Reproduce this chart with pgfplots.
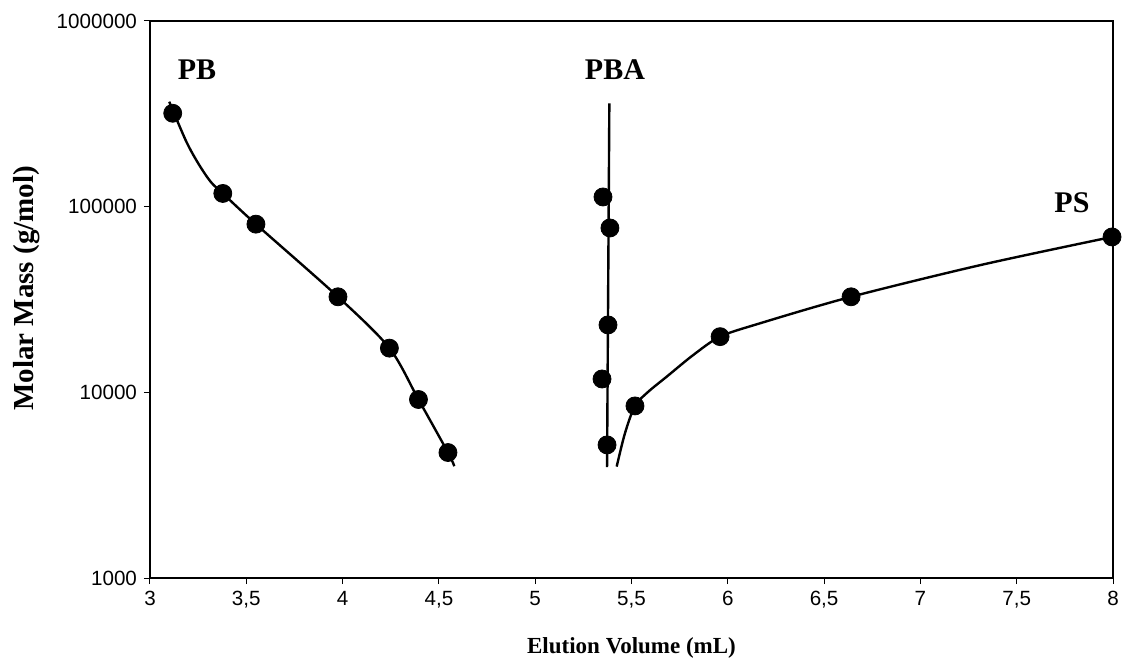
\documentclass[border=0pt]{standalone}
\usepackage{fontspec}
\setmainfont{Liberation Serif}
\newfontfamily\tickfont{Liberation Sans}
\usepackage{pgfplots}
\pgfplotsset{compat=1.18}
\begin{document}
\begin{tikzpicture}
\useasboundingbox (-75pt,-44pt) rectangle (486.5pt,289pt);
\begin{axis}[
  at={(0,0)}, anchor=south west,
  scale only axis, width=481.5pt, height=278.5pt,
  ymode=log, xmin=3, xmax=8, ymin=1000, ymax=1000000,
  xtick={3,3.5,4,4.5,5,5.5,6,6.5,7,7.5,8},
  xticklabels={3,{3,5},4,{4,5},5,{5,5},6,{6,5},7,{7,5},8},
  ytick={1000,10000,100000,1000000},
  yticklabels={1000,10000,100000,1000000},
  yminorticks=false,
  tick align=outside, xtick pos=bottom, ytick pos=left,
  major tick length=3pt,
  tick style={black, line width=0.5pt},
  axis line style={line width=0.6pt},
  ticklabel style={font=\tickfont\fontsize{10.3}{12}\selectfont},
  xlabel={Elution Volume (mL)},
  ylabel={Molar Mass (g/mol)},
  xlabel style={font=\bfseries\fontsize{11.5}{14}\selectfont, at={(axis description cs:0.5,-0.1257)}, anchor=center},
  ylabel style={font=\bfseries\fontsize{14.5}{17}\selectfont, at={(axis description cs:-0.128,0.52)}, anchor=center},
  clip=false,
]
% PB
\addplot[smooth, tension=0.5, black, line width=1.2pt] coordinates {
 (3.100,367600) (3.188,224700) (3.253,169400) (3.315,136200) (3.378,117800) (3.550,80500)
 (3.976,32700) (4.243,17300) (4.394,9150) (4.547,4740) (4.58,4000)};
\addplot[only marks, mark=*, mark size=4.5pt, black] coordinates {
 (3.118,318500) (3.378,117800) (3.550,80500) (3.976,32700) (4.243,17300) (4.394,9150) (4.547,4740)};
% PBA
\addplot[black, line width=1.2pt] coordinates {(5.385,360000) (5.373,3960)};
\addplot[only marks, mark=*, mark size=4.5pt, black] coordinates {
 (5.352,112800) (5.388,76800) (5.378,23070) (5.347,11800) (5.373,5210)};
% PS
\addplot[smooth, tension=0.5, black, line width=1.2pt] coordinates {
 (5.423,3981) (5.466,6019) (5.518,8450) (5.586,10050) (5.683,12150) (5.821,15900) (5.960,19950)
 (6.159,23400) (6.640,32700) (7.315,48550) (7.995,68700)};
\addplot[only marks, mark=*, mark size=4.5pt, black] coordinates {
 (5.518,8450) (5.960,19950) (6.640,32700) (7.995,68700)};
\node[font=\bfseries\fontsize{15}{18}\selectfont] at (axis cs:3.244,545000) {PB};
\node[font=\bfseries\fontsize{15}{18}\selectfont] at (axis cs:5.414,545000) {PBA};
\node[font=\bfseries\fontsize{15}{18}\selectfont] at (axis cs:7.787,104700) {PS};
\end{axis}
\end{tikzpicture}
\end{document}
